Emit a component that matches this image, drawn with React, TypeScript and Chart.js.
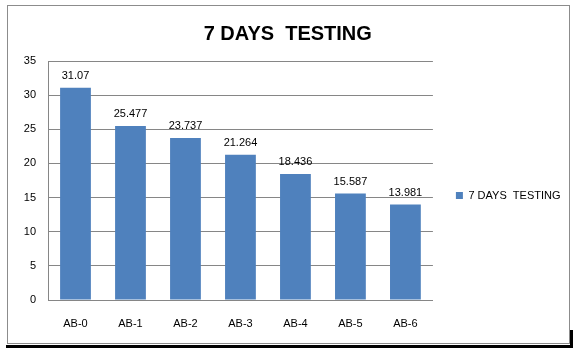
import React, { useEffect, useRef } from "react";
import { Chart, registerables } from "chart.js";

Chart.register(...registerables);

const categories = ["AB-0", "AB-1", "AB-2", "AB-3", "AB-4", "AB-5", "AB-6"];
const seriesName = "7 DAYS  TESTING";
const values = [31.07, 25.477, 23.737, 21.264, 18.436, 15.587, 13.981];
const titleText = "7 DAYS  TESTING";

const FONT = "'Liberation Sans', Arial, sans-serif";

const valueLabels = {
  id: "valueLabels",
  afterDatasetsDraw(chart: any) {
    const ctx = chart.ctx;
    const meta = chart.getDatasetMeta(0);
    ctx.save();
    ctx.font = `11px ${FONT}`;
    ctx.fillStyle = "#000";
    ctx.textAlign = "center";
    ctx.textBaseline = "middle";
    meta.data.forEach((bar: any, i: number) => {
      ctx.fillText(String(values[i]), bar.x, bar.y - 12);
    });
    ctx.restore();
  },
};

export default function App() {
  const ref = useRef<HTMLCanvasElement>(null);
  useEffect(() => {
    const chart = new Chart(ref.current!, {
      type: "bar",
      data: {
        labels: categories,
        datasets: [
          {
            label: seriesName,
            data: values,
            backgroundColor: "#4F81BD",
            borderWidth: 0,
            barPercentage: 0.56,
            categoryPercentage: 1,
          },
        ],
      },
      options: {
        responsive: false,
        animation: false,
        layout: { padding: { top: 10, right: 8.5, bottom: 0, left: 5 } },
        plugins: {
          title: {
            display: true,
            text: titleText,
            color: "#000",
            font: { family: FONT, size: 20, weight: "bold" },
            padding: { top: 12, bottom: 15 },
          },
          legend: {
            display: true,
            position: "right",
            title: {
              display: true,
              text: " ",
              font: { family: FONT, size: 11 },
              padding: { top: 0, bottom: 15 },
            },
            labels: {
              boxWidth: 7,
              boxHeight: 7,
              padding: 23,
              color: "#000",
              font: { family: FONT, size: 11 },
            },
          },
          tooltip: { enabled: false },
        },
        scales: {
          x: {
            grid: { display: false, drawTicks: false },
            border: { display: true, color: "#868686" },
            ticks: { color: "#000", font: { family: FONT, size: 11 }, padding: 17 },
            afterFit(scale: any) {
              scale.height = 53;
            },
          },
          y: {
            min: 0,
            max: 35,
            ticks: { stepSize: 5, color: "#000", font: { family: FONT, size: 11 }, padding: 12 },
            grid: { color: "#868686", drawTicks: false },
            border: { display: true, color: "#868686" },
            afterFit(scale: any) {
              scale.width = 43;
            },
          },
        },
      },
      plugins: [valueLabels],
    });
    return () => chart.destroy();
  }, []);
  return (
    <div style={{ position: "absolute", left: 0, top: 0, width: 579, height: 353, background: "#fff" }}>
      <div style={{ position: "absolute", left: 7, top: 5, width: 563, height: 339, border: "1px solid #8c8c8c", boxSizing: "border-box" }} />
      <div style={{ position: "absolute", left: 6, top: 345, width: 567, height: 3, background: "#000" }} />
      <div style={{ position: "absolute", left: 570, top: 330, width: 3, height: 18, background: "#000" }} />
      <canvas ref={ref} width={579} height={353} style={{ position: "absolute", left: 0, top: 0 }} />
    </div>
  );
}
